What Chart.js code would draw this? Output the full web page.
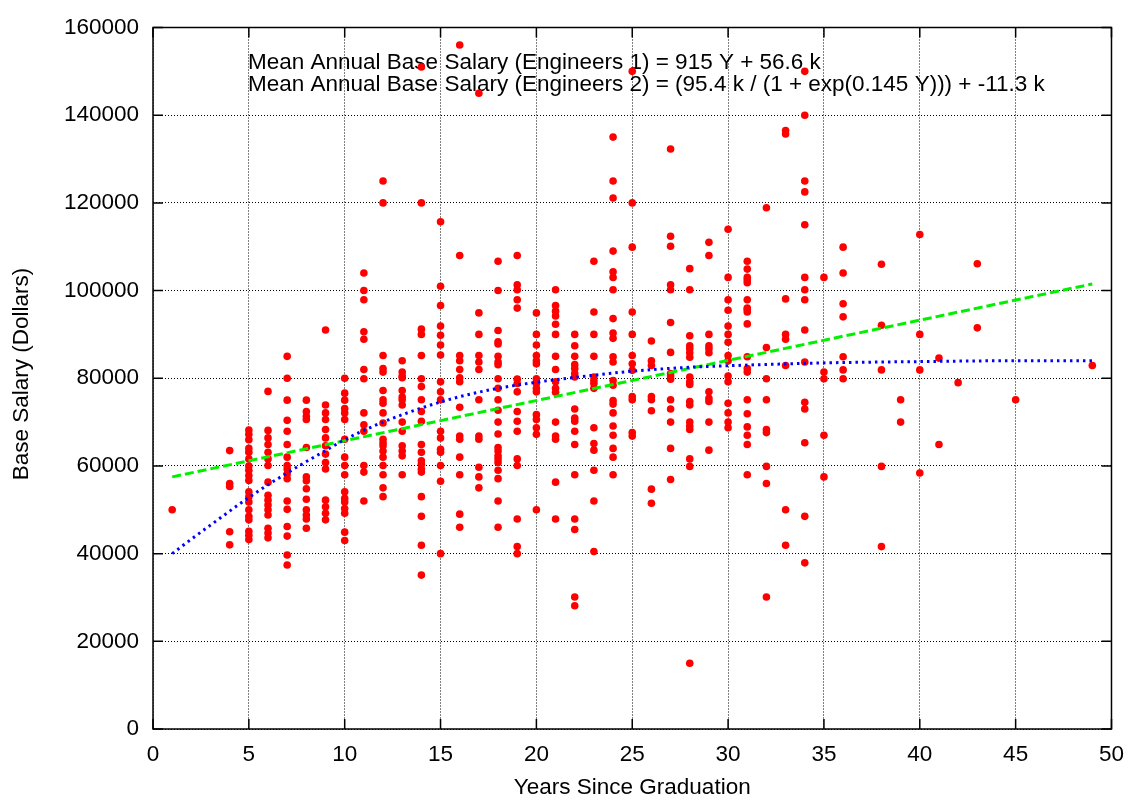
<!DOCTYPE html>
<html>
<head>
<meta charset="utf-8">
<script src="https://cdn.jsdelivr.net/npm/chart.js@4.4.1/dist/chart.umd.min.js"></script>
<style>
html,body{margin:0;padding:0;background:#fff;}
#wrap{width:1136px;height:802px;position:relative;}
</style>
</head>
<body>
<div id="wrap"><canvas id="c" width="1136" height="802"></canvas></div>
<script>
// ---- Data ----
const groupYears = [1,4,5,6,7,8,9,10,11,12,13,14,15,16,17,18,19,20,21,22,23,24,25,26,27,28,29,30,31,32,33,34,35,36,38,39,40,41,42,43,45,49];
const groupSalaries = [
  [50000],
  [63500,56000,55300,45000,42000],
  [68200,67200,66000,64000,63100,61600,60000,59000,57800,56700,54100,53000,51800,50000,48500,47700,45100,44200,43200],
  [77000,68100,66400,64900,63100,61600,60100,56300,53300,52200,51100,50000,48800,45800,44700,43600],
  [85000,80000,75000,70400,67900,64900,62000,60100,59300,58200,57100,52000,50100,46200,44000,39700,37400],
  [75000,72400,71300,70600,64200,57500,56600,54800,52400,50000,48800,47900,45800],
  [91000,73900,72100,70600,68300,66400,64600,62700,60800,59300,52200,50700,49200,47700],
  [80000,76600,75000,73100,72100,70600,66100,62000,60100,58000,54100,52600,51800,50300,49200,44900,43000],
  [104000,100000,97900,90600,88900,82000,79900,72100,69400,67900,60100,58600,52000],
  [125000,120000,85200,82200,81400,77200,75100,74300,72100,69800,66100,65300,64600,63400,62000,60100,58000,55000,53000],
  [84000,81400,80500,80100,77200,75700,75100,73900,70000,67900,64600,63400,62300,58000],
  [151000,120000,91200,90000,85200,79900,78100,75100,72400,70200,64900,63100,61200,60400,59300,58600,53000,48500,41900,35100],
  [115700,101000,96600,91900,89800,87600,85300,79200,76900,75100,67900,66400,63800,63100,60100,56500,40000],
  [156000,108000,85200,84000,82000,80100,79200,73400,66800,66100,62000,58000,49000,46000],
  [145000,94900,90000,85200,83700,82000,75100,66800,66100,59700,57500,55000],
  [106700,100000,90900,88300,87800,85000,83700,83100,79900,77700,75100,72700,70000,67300,64200,63400,62300,61600,60800,59000,57100,52000,46000],
  [108000,101300,100200,97900,96000,79800,78800,76900,72400,70200,67900,61600,60100,47900,41600,40000],
  [94900,90000,87600,85200,84000,83300,79900,78800,77700,76900,71700,70600,68700,67200,50000],
  [100200,96600,95300,94200,92300,90000,85000,82000,79200,77700,76800,70000,66800,66100,56300,47900],
  [90000,87400,85000,83100,82200,81100,80300,73000,70900,70200,67900,64900,58000,47900,45500,30100,28100],
  [106700,95100,90000,85000,80300,79500,78800,77700,68700,65100,63600,59000,52000,40500],
  [135000,125000,121100,109000,104300,103000,100200,93600,90300,89100,84900,83700,79500,78400,74900,74100,72100,69100,67000,64000,62000,58000],
  [150000,120000,109900,95100,90000,85200,83300,81800,75800,75100,67600,66800],
  [88500,84000,82900,75800,75100,72600,54700,51500],
  [132300,112400,110100,101300,100200,92700,85900,81100,80500,79800,75100,73000,70000,64000,56900],
  [105000,100200,89700,87400,86700,85800,84800,80300,79200,78600,74700,73900,70000,69100,68300,61600,59900,15000],
  [111000,108000,90000,87400,86700,85800,76900,75400,74700,70000,63600],
  [114000,103000,97900,95500,91900,90000,88200,85200,84000,80500,79200,74300,72100,70000,68700],
  [106700,104900,103000,102400,101800,97900,96000,95700,95100,92400,84900,82200,81400,75100,71900,68900,67000,64900,58000],
  [118900,87000,79900,75100,68300,67600,59900,56000,30100],
  [136500,135700,98100,90000,88900,82900,50000,41900],
  [150000,140000,125000,122500,115000,103000,100200,97900,91000,83700,74500,73000,65300,48500,37900],
  [103000,81400,79900,67000,57500],
  [109900,104000,97000,94000,84900,81900,79900],
  [106000,92100,81900,59900,41600],
  [75100,70000],
  [112800,90000,81900,58400],
  [84600,64900],
  [79000],
  [106100,91500],
  [75100],
  [82900]
];
// Fit line 1 (linear), read at its ends
const fit1Years = [1, 49];
const fit1Salaries = [57500, 101500];
// Fit line 2 (logistic)
const fit2Years = [1,2,3,4,5,6,7,8,9,10,12,14,16,18,20,22,25,28,31,35,40,45,49];
const fit2Salaries = [40000,43300,46500,49700,52800,55700,58400,61000,63500,66000,70000,73200,75800,77700,79100,80200,81600,82500,83000,83500,83800,84000,84000];

const xTicks = [0,5,10,15,20,25,30,35,40,45,50];
const yTicks = [0,20000,40000,60000,80000,100000,120000,140000,160000];
const xTitle = 'Years Since Graduation';
const yTitle = 'Base Salary (Dollars)';
const fitLabels = [
  'Mean Annual Base Salary (Engineers 1) = 915 Y + 56.6 k',
  'Mean Annual Base Salary (Engineers 2) = (95.4 k / (1 + exp(0.145 Y))) + -11.3 k'
];

// ---- build library data ----
const scatterPts = [];
groupYears.forEach((yr, i) => groupSalaries[i].forEach(v => scatterPts.push({x: yr, y: v})));
const fit1Pts = fit1Years.map((x, i) => ({x, y: fit1Salaries[i]}));
const fit2Pts = fit2Years.map((x, i) => ({x, y: fit2Salaries[i]}));

const FONT = '"Liberation Sans", Arial, Helvetica, sans-serif';
const FS = 22.5;

const framePlugin = {
  id: 'frame',
  beforeDatasetsDraw(chart) {
    const ctx = chart.ctx;
    ctx.save();
    ctx.fillStyle = '#000';
    ctx.font = FS + 'px ' + FONT;
    ctx.textAlign = 'left';
    ctx.textBaseline = 'alphabetic';
    ctx.fillText(fitLabels[0], 248, 69);
    ctx.fillText(fitLabels[1], 248, 91);
    ctx.restore();
  },
  afterDraw(chart) {
    const ctx = chart.ctx;
    const a = chart.chartArea;
    const xs = chart.scales.x, ys = chart.scales.y;
    ctx.save();
    ctx.strokeStyle = '#000';
    ctx.lineWidth = 1.5;
    ctx.setLineDash([]);
    ctx.strokeRect(a.left, a.top, a.right - a.left, a.bottom - a.top);
    const tl = 10;
    ctx.beginPath();
    xTicks.forEach(t => {
      const px = xs.getPixelForValue(t);
      ctx.moveTo(px, a.bottom); ctx.lineTo(px, a.bottom - tl);
      ctx.moveTo(px, a.top); ctx.lineTo(px, a.top + tl);
    });
    yTicks.forEach(t => {
      const py = ys.getPixelForValue(t);
      ctx.moveTo(a.left, py); ctx.lineTo(a.left + tl, py);
      ctx.moveTo(a.right, py); ctx.lineTo(a.right - tl, py);
    });
    ctx.stroke();
    ctx.fillStyle = '#000';
    ctx.font = FS + 'px ' + FONT;
    ctx.textAlign = 'center';
    ctx.textBaseline = 'alphabetic';
    ctx.fillText(xTitle, (a.left + a.right) / 2, 794);
    ctx.translate(28, 374);
    ctx.rotate(-Math.PI / 2);
    ctx.fillText(yTitle, 0, 0);
    ctx.restore();
  }
};

new Chart(document.getElementById('c'), {
  type: 'scatter',
  data: {
    datasets: [
      {
        label: 'fit2', data: fit2Pts, showLine: true, pointRadius: 0,
        borderColor: '#0000ff', borderWidth: 3, borderDash: [2.5, 4], borderCapStyle: 'butt',
        cubicInterpolationMode: 'monotone', fill: false, order: 0
      },
      {
        label: 'fit1', data: fit1Pts, showLine: true, pointRadius: 0,
        borderColor: '#00f000', borderWidth: 3, borderDash: [9, 4], borderCapStyle: 'butt',
        fill: false, order: 1
      },
      {
        label: 'data', data: scatterPts, pointRadius: 3.8, pointHoverRadius: 3.8,
        backgroundColor: '#ff0000', borderWidth: 0, pointBorderWidth: 0, order: 2
      }
    ]
  },
  options: {
    responsive: false,
    animation: false,
    events: [],
    layout: { padding: { left: 0, top: 17, right: 24, bottom: 0 } },
    plugins: { legend: { display: false }, tooltip: { enabled: false } },
    scales: {
      x: {
        type: 'linear', min: 0, max: 50,
        afterBuildTicks: s => { s.ticks = xTicks.map(v => ({value: v})); },
        afterFit: s => { s.height = 73; },
        ticks: { color: '#000', font: { family: FONT, size: FS }, padding: 12, maxRotation: 0, autoSkip: false,
                 callback: v => String(v) },
        grid: { color: '#000', lineWidth: 1, drawTicks: false },
        border: { display: false, dash: [1, 2] }
      },
      y: {
        type: 'linear', min: 0, max: 160000,
        afterBuildTicks: s => { s.ticks = yTicks.map(v => ({value: v})); },
        afterFit: s => { s.width = 153; },
        ticks: { color: '#000', font: { family: FONT, size: FS }, padding: 14, autoSkip: false,
                 callback: v => String(v) },
        grid: { color: '#000', lineWidth: 1, drawTicks: false },
        border: { display: false, dash: [1, 2] }
      }
    }
  },
  plugins: [framePlugin]
});
</script>
</body>
</html>
